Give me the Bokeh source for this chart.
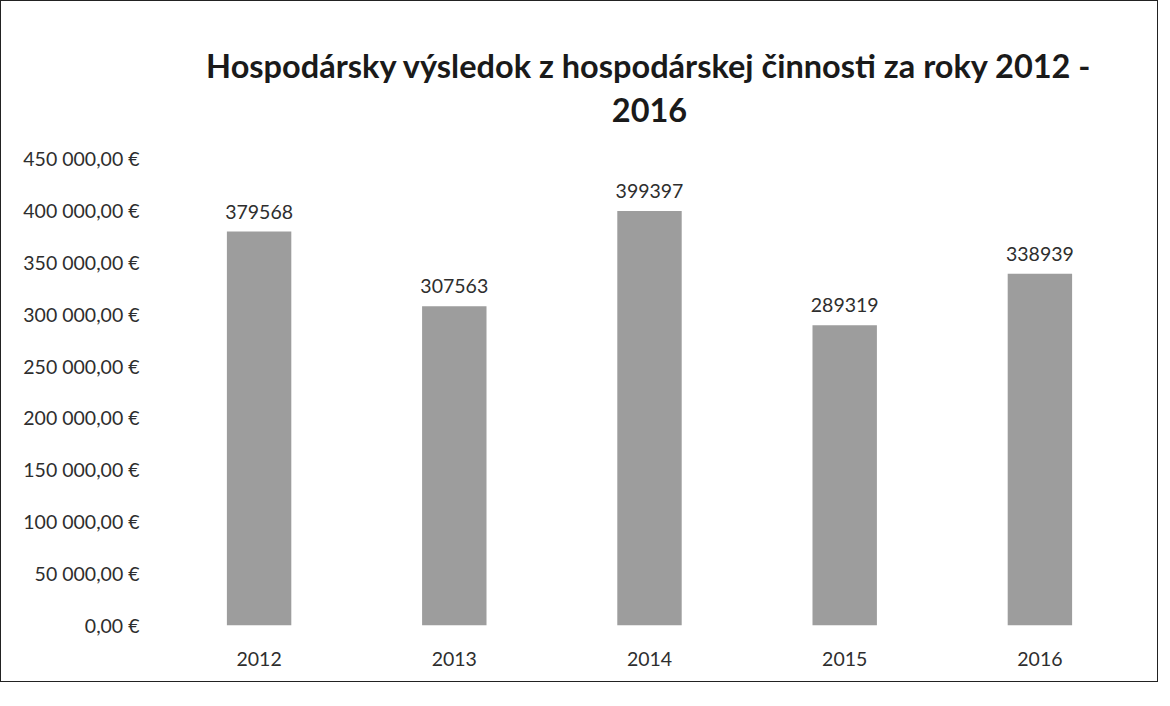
from bokeh.plotting import figure
from bokeh.models import ColumnDataSource, Range1d, FixedTicker, Title
from bokeh.core.properties import value
from bokeh.embed import file_html
from bokeh.resources import INLINE

# ---- data ----
years = ["2012", "2013", "2014", "2015", "2016"]
results = [379568, 307563, 399397, 289319, 338939]
y_ticks = [0, 50000, 100000, 150000, 200000, 250000, 300000, 350000, 400000, 450000]
y_tick_labels = ["0,00 €", "50 000,00 €", "100 000,00 €", "150 000,00 €", "200 000,00 €",
                 "250 000,00 €", "300 000,00 €", "350 000,00 €", "400 000,00 €", "450 000,00 €"]
title_lines = ["Hospodársky výsledok z hospodárskej činnosti za roky 2012 -", "2016"]

FONT = "Lato"
TXT = "#2e2e2e"

src = ColumnDataSource(dict(year=years, value=results, label=[str(v) for v in results]))

p = figure(x_range=years, y_range=Range1d(0, 450000), width=1158, height=682,
           output_backend="svg", toolbar_location=None,
           min_border_left=160, min_border_right=22, min_border_top=157, min_border_bottom=58)
p.styles = {"border": "1px solid #222"}

p.vbar(x="year", top="value", width=0.33, source=src, fill_color="#9d9d9d", line_color=None)
p.text(x="year", y="value", text="label", source=src, text_align="center",
       text_baseline="bottom", y_offset=-13, text_font=value(FONT),
       text_font_size="19.5px", text_color=TXT)

p.yaxis.ticker = FixedTicker(ticks=y_ticks)
p.yaxis.major_label_overrides = dict(zip(y_ticks, y_tick_labels))
for ax in (p.xaxis, p.yaxis):
    ax.axis_line_color = None
    ax.major_tick_line_color = None
    ax.minor_tick_line_color = None
    ax.major_label_text_font = FONT
    ax.major_label_text_font_size = "19.5px"
    ax.major_label_text_color = TXT
p.yaxis.major_label_standoff = 16
p.xaxis.major_label_standoff = 20

p.xgrid.grid_line_color = None
p.ygrid.grid_line_color = None
p.outline_line_color = None

# spacer between plot area and the two title lines
spacer = Title(text=" ", align="center", standoff=32, text_font=FONT, text_font_size="1px")
t2 = Title(text=title_lines[1], align="center", standoff=4, text_font=FONT,
           text_font_size="32.5px", text_font_style="bold", text_color="#1a1a1a")
t1 = Title(text=title_lines[0], align="center", standoff=18, text_font=FONT,
           text_font_size="32.5px", text_font_style="bold", text_color="#1a1a1a")
p.add_layout(spacer, "above")
p.add_layout(t2, "above")
p.add_layout(t1, "above")

open("out.html", "w").write(file_html(p, INLINE))
